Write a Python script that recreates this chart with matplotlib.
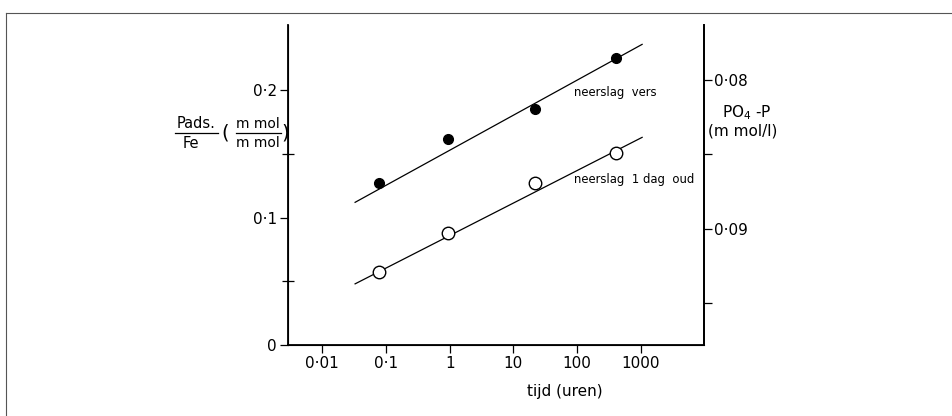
import matplotlib
matplotlib.use("Agg")
import matplotlib.pyplot as plt
from matplotlib.lines import Line2D
from matplotlib.ticker import FixedLocator, NullFormatter

plt.rcParams['font.family'] = ['DejaVu Sans']

# data
tijd = [0.077, 0.93, 22, 400]              # uren
vers = [0.127, 0.162, 0.185, 0.225]        # Pads/Fe, neerslag vers
oud = [0.057, 0.088, 0.127, 0.151]         # Pads/Fe, neerslag 1 dag oud

fit_x = [0.033, 1040]
fit_vers = [0.112, 0.236]
fit_oud = [0.048, 0.163]

xticks = [0.01, 0.1, 1, 10, 100, 1000]
xlabels = ['0·01', '0·1', '1', '10', '100', '1000']
yticks = [0, 0.1, 0.2]
ylabels = ['0', '0·1', '0·2']
yminor = [0.05, 0.15]
rticks = [0.08, 0.09]
rlabels = ['0·08', '0·09']
rminor = [0.085, 0.095]

W, H = 953, 416
fig = plt.figure(figsize=(9.53, 4.16), dpi=100)
ax = fig.add_axes([288 / W, 1 - 345 / H, 416 / W, 320 / H])

ax.plot(fit_x, fit_vers, color='black', lw=0.9)
ax.plot(fit_x, fit_oud, color='black', lw=0.9)
ax.plot(tijd, vers, 'o', color='black', ms=7, zorder=3)
ax.plot(tijd, oud, 'o', mfc='white', mec='black', mew=1.0, ms=9, zorder=3)

ax.set_xscale('log')
ax.set_xlim(0.00293, 9700)
ax.set_ylim(0, 0.2512)
ax.xaxis.set_major_locator(FixedLocator(xticks))
ax.set_xticklabels(xlabels)
ax.xaxis.set_minor_locator(FixedLocator([]))
ax.set_yticks(yticks)
ax.set_yticklabels(ylabels)
ax.yaxis.set_minor_locator(FixedLocator(yminor))
ax.yaxis.set_minor_formatter(NullFormatter())
ax.tick_params(axis='both', which='major', direction='out', length=6, width=0.9,
               labelsize=11, pad=2)
ax.tick_params(axis='y', which='minor', direction='inout', length=8, width=0.9)
ax.spines['top'].set_visible(False)
for s in ['left', 'bottom', 'right']:
    ax.spines[s].set_linewidth(1.3)

ax.text(90, 0.198, 'neerslag  vers', fontsize=8.4, va='center', ha='left')
ax.text(88, 0.130, 'neerslag  1 dag  oud', fontsize=8.4, va='center', ha='left')

ax.text((565 - 288) / 416, -0.145, 'tijd (uren)', transform=ax.transAxes,
        fontsize=11, ha='center', va='center')

# right axis, inverted PO4-P scale
ax2 = ax.twinx()
ax2.set_ylim(0.09784, 0.07628)
ax2.set_yticks(rticks)
ax2.set_yticklabels(rlabels)
ax2.yaxis.set_minor_locator(FixedLocator(rminor))
ax2.yaxis.set_minor_formatter(NullFormatter())
ax2.tick_params(axis='y', which='both', direction='out', length=6, width=0.9,
                labelsize=11, pad=1)
ax2.spines['top'].set_visible(False)
ax2.spines['right'].set_linewidth(1.3)

fig.text(747 / W, 1 - 113 / H, 'PO$_4$ -P', fontsize=11, ha='center', va='center')
fig.text(743 / W, 1 - 131 / H, '(m mol/l)', fontsize=11, ha='center', va='center')

# left label: Pads./Fe (m mol / m mol)
def fx(px):
    return px / W

def fy(py):
    return 1 - py / H

fig.text(fx(196), fy(124), 'Pads.', fontsize=10.5, ha='center', va='center')
fig.text(fx(191), fy(143), 'Fe', fontsize=10.5, ha='center', va='center')
fig.add_artist(Line2D([fx(175), fx(218)], [fy(133), fy(133)], color='black', lw=0.9))
fig.text(fx(225), fy(133), '(', fontsize=14, ha='center', va='center')
fig.text(fx(258), fy(124), 'm mol', fontsize=10, ha='center', va='center')
fig.text(fx(258), fy(143), 'm mol', fontsize=10, ha='center', va='center')
fig.add_artist(Line2D([fx(236), fx(281)], [fy(133), fy(133)], color='black', lw=0.9))
fig.text(fx(285), fy(133), ')', fontsize=14, ha='center', va='center')

# scan frame
fig.add_artist(Line2D([fx(6), 1], [fy(13), fy(13)], color='#555555', lw=0.8))
fig.add_artist(Line2D([fx(6), fx(6)], [0, fy(13)], color='#555555', lw=0.8))

fig.savefig('out.png', dpi=100)
